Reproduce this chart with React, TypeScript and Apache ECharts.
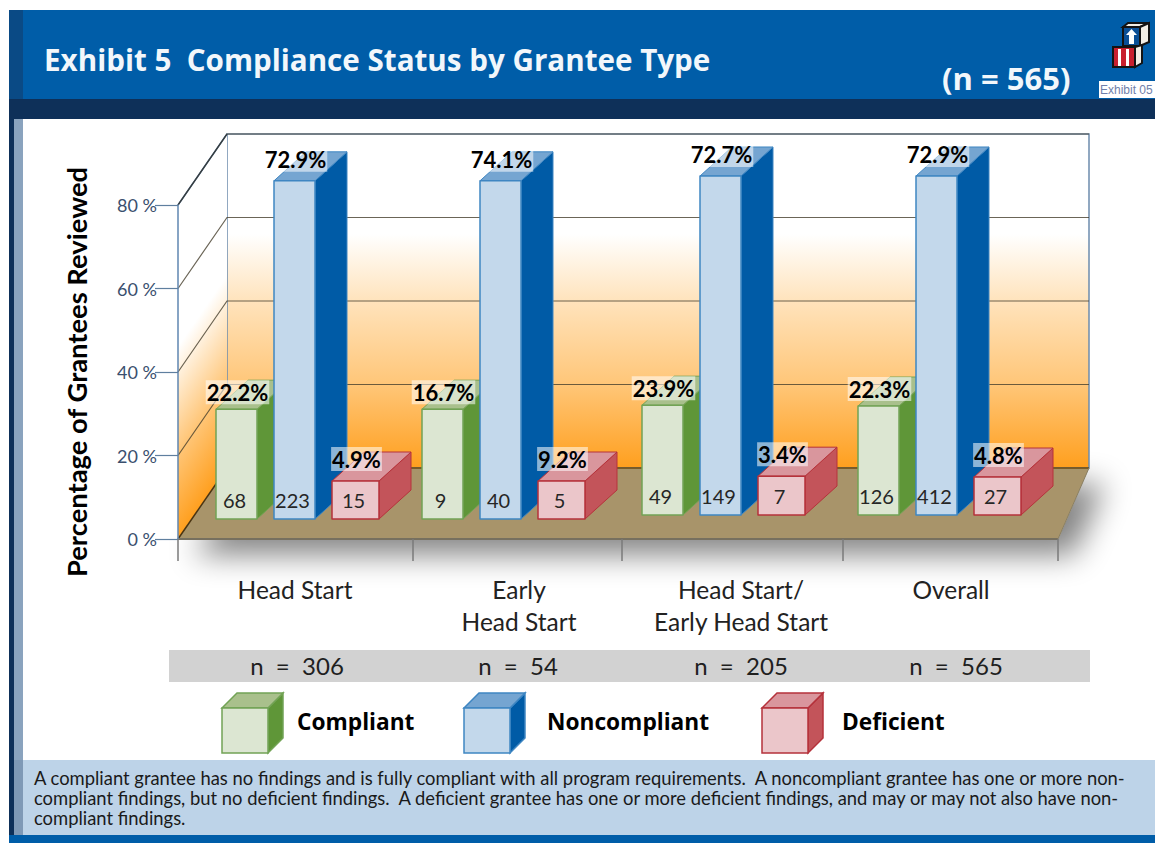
import React, { useEffect, useRef } from "react";
import * as echarts from "echarts";

// ---------- data ----------
const categories = ["Head Start", "Early\nHead Start", "Head Start/\nEarly Head Start", "Overall"];
const sampleSizes = ["n  =  306", "n  =  54", "n  =  205", "n  =  565"];
const yTickValues = [0, 20, 40, 60, 80];

const compliantPct = ["22.2%", "16.7%", "23.9%", "22.3%"];
const noncompliantPct = ["72.9%", "74.1%", "72.7%", "72.9%"];
const deficientPct = ["4.9%", "9.2%", "3.4%", "4.8%"];

const compliantCounts = [68, 9, 49, 126];
const noncompliantCounts = [223, 40, 149, 412];
const deficientCounts = [15, 5, 7, 27];

// Bar heights as drawn in the picture, read against the left axis
const compliantHeights = [26.3, 26.3, 26.3, 26.1];
const noncompliantHeights = [81, 81, 81.2, 81.2];
const deficientHeights = [9.1, 9.1, 9.3, 9.1];

const noteLines = [
  "A compliant grantee has no findings and is fully compliant with all program requirements.  A noncompliant grantee has one or more non-",
  "compliant findings, but no deficient findings.  A deficient grantee has one or more deficient findings, and may or may not also have non-",
  "compliant findings.",
];

// ---------- layout (x axis runs in pixels from the front-left corner) ----------
const GRID = { left: 178, top: 205, width: 880, height: 334 };
const xTicks = [0, 235, 444, 665, 880];
const xLabelAt = [117, 341, 563, 773];
const groupLeft = [38, 244, 464, 680];
const groupLift = [20, 20, 24, 24];
const nLabelX = [297, 518, 741, 956];
const WALL = { dx: 49, dy: -71, right: 1089 };
const DEPTH = { dx: 32, dy: -29 };
const LATO = "Lato";

const palette = {
  compliant: { face: "#DCE6D2", stroke: "#72A355", side: "#5F9638", top: "#A9C08C" },
  noncompliant: { face: "#C3D8EB", stroke: "#3F86C2", side: "#005BA6", top: "#75A5D1" },
  deficient: { face: "#EBC6CA", stroke: "#B5323B", side: "#C3545A", top: "#D9969D" },
};

function barSeries(
  name: string,
  heights: number[],
  pct: string[],
  counts: number[],
  colors: { face: string; stroke: string; side: string; top: string },
  offset: number,
  width: number,
  labelGap: number,
  layer: number,
) {
  return {
    type: "custom",
    name,
    z: 5,
    clip: false,
    encode: { x: 0, y: 1 },
    data: heights.map((h, i) => [groupLeft[i] + offset, h, i]),
    renderItem: (_p: any, api: any) => {
      const x = api.value(0);
      const h = api.value(1);
      const i = api.value(2);
      const base = api.coord([x, 0]);
      const top = api.coord([x, h]);
      const L = base[0];
      const R = L + width;
      const B = base[1] - groupLift[i];
      const T = top[1] - groupLift[i];
      const { dx, dy } = DEPTH;
      const line = { stroke: colors.stroke, lineWidth: 1.5, lineJoin: "round" };
      return {
        type: "group",
        children: [
          {
            type: "polygon",
            z2: layer,
            shape: { points: [[R, T], [R + dx, T + dy], [R + dx, B + dy], [R, B]] },
            style: { fill: colors.side, stroke: colors.stroke, lineWidth: 1 },
          },
          {
            type: "polygon",
            z2: layer,
            shape: { points: [[L, T], [L + dx, T + dy], [R + dx, T + dy], [R, T]] },
            style: { fill: colors.top, stroke: colors.stroke, lineWidth: 1 },
          },
          {
            type: "rect",
            z2: layer,
            shape: { x: L, y: T, width, height: B - T },
            style: { fill: colors.face, ...line },
          },
          {
            type: "text",
            z2: 50,
            style: {
              text: String(counts[i]),
              x: (L + R) / 2 - 2,
              y: B - 19,
              align: "center",
              verticalAlign: "middle",
              fontFamily: LATO,
              fontSize: 20,
              fill: "#262626",
            },
          },
          {
            type: "text",
            z2: 60,
            style: {
              text: pct[i],
              x: (L + R) / 2 + 1,
              y: T - labelGap,
              align: "center",
              verticalAlign: "middle",
              fontFamily: LATO,
              fontSize: 22,
              fontWeight: "bold",
              fill: "#000",
              backgroundColor: "rgba(255,255,255,0.55)",
              padding: [1, 1, 1, 1],
            },
          },
        ],
      };
    },
  };
}

function cube(x: number, colors: { face: string; stroke: string; side: string; top: string }) {
  const y = 708;
  const w = 46;
  const h = 45;
  const dx = 15;
  const dy = -15;
  const border = { stroke: colors.stroke, lineWidth: 1.5 };
  return [
    { type: "polygon", z: 20, shape: { points: [[x + w, y], [x + w + dx, y + dy], [x + w + dx, y + h + dy], [x + w, y + h]] }, style: { fill: colors.side, ...border } },
    { type: "polygon", z: 20, shape: { points: [[x, y], [x + dx, y + dy], [x + w + dx, y + dy], [x + w, y]] }, style: { fill: colors.top, ...border } },
    { type: "rect", z: 20, shape: { x, y, width: w, height: h }, style: { fill: colors.face, ...border } },
  ];
}

function txt(text: string, x: number, y: number, fontSize: number, fill: string, extra: object = {}) {
  return {
    type: "text",
    z: 21,
    style: { text, x, y, fontSize, fill, fontFamily: LATO, verticalAlign: "middle", align: "left", ...extra },
  };
}

function poly(points: number[][], style: object, z = 0) {
  return { type: "polygon", z, shape: { points }, style };
}

function rect(x: number, y: number, width: number, height: number, fill: string, z = 0) {
  return { type: "rect", z, shape: { x, y, width, height }, style: { fill } };
}

function backdrop() {
  const frontL = GRID.left;
  const frontB = GRID.top + GRID.height;
  const backL = frontL + WALL.dx;
  const backB = frontB + WALL.dy;
  const backT = GRID.top + WALL.dy;
  const frontR = GRID.left + GRID.width;
  const floorPts = [[frontL, frontB], [backL, backB], [WALL.right, backB], [frontR, frontB]];
  const backGrad = new echarts.graphic.LinearGradient(0, 0, 0, 1, [
    { offset: 0, color: "#FFFFFF" },
    { offset: 0.3, color: "#FFFFFF" },
    { offset: 0.5, color: "#FFE3BC" },
    { offset: 0.75, color: "#FFC678" },
    { offset: 1, color: "#FF9F1E" },
  ]);
  const sideGrad = new (echarts.graphic.LinearGradient as any)(
    frontL, frontB, frontL - 90, frontB - 62,
    [
      { offset: 0, color: "#FF9F1E" },
      { offset: 0.45, color: "#FFC678" },
      { offset: 1, color: "#FFFFFF" },
    ],
    true,
  );
  return [
    rect(9, 10, 1146, 89, "#005DA8", 1),
    rect(9, 10, 14, 89, "#0A4A85", 1),
    rect(9, 99, 1146, 20, "#0E3059", 1),
    rect(9, 119, 5, 716, "#0E3059", 1),
    rect(14, 119, 9, 641, "#8AA3BE", 1),
    rect(14, 760, 9, 75, "#7F99B6", 1),
    rect(23, 760, 1132, 75, "#BDD3E8", 1),
    rect(9, 835, 1146, 8, "#005DA8", 1),
    rect(169, 650, 921, 32, "#D2D2D2", 1),
    poly(floorPts, { fill: "#A8946A", shadowBlur: 30, shadowOffsetX: 16, shadowOffsetY: 16, shadowColor: "rgba(0,0,0,0.48)" }, 1),
    rect(backL, backT, WALL.right - backL, backB - backT, "#FFFFFF", 1),
    { type: "rect", z: 1, shape: { x: backL, y: backT, width: WALL.right - backL, height: backB - backT }, style: { fill: backGrad, stroke: "#6E8CAD", lineWidth: 1.5 } },
    poly([[frontL, GRID.top], [backL, backT], [backL, backB], [frontL, frontB]], { fill: sideGrad }, 1),
    { type: "line", z: 1, shape: { x1: frontL, y1: GRID.top, x2: backL, y2: backT }, style: { stroke: "#1D3F66", lineWidth: 1.5 } },
    poly(floorPts, { fill: "#A8946A" }, 1),
    { type: "line", z: 1, shape: { x1: frontL, y1: frontB, x2: backL, y2: backB }, style: { stroke: "#4A3412", lineWidth: 1.5 } },
    { type: "line", z: 1, shape: { x1: backL, y1: backB, x2: WALL.right, y2: backB }, style: { stroke: "#6B4A12", lineWidth: 1.5 } },
    { type: "line", z: 1, shape: { x1: frontL, y1: frontB, x2: frontR, y2: frontB }, style: { stroke: "#77705F", lineWidth: 2 } },
    { type: "line", z: 1, shape: { x1: frontR, y1: frontB, x2: WALL.right, y2: backB }, style: { stroke: "#8A8066", lineWidth: 1 } },
  ];
}

function headerText() {
  return [
    txt("Exhibit 5  Compliance Status by Grantee Type", 44, 59, 29.6, "#F2F7FB", { fontFamily: "Open Sans", fontWeight: "bold" }),
    txt("(n = 565)", 942, 78, 31, "#F2F7FB", { fontFamily: "Open Sans", fontWeight: "bold" }),
    { type: "rect", z: 20, shape: { x: 1099, y: 81, width: 56, height: 17 }, style: { fill: "#FFFFFF" } },
    txt("Exhibit 05", 1100, 90, 12, "#6F7FAA", { fontFamily: "Liberation Sans" }),
  ];
}

function logo() {
  const ink = { stroke: "#141414", lineWidth: 2 };
  return [
    poly([[1123, 27], [1128, 23], [1149, 23], [1140, 27]], { fill: "#F3EFE6", ...ink }, 20),
    poly([[1140, 27], [1149, 23], [1149, 42], [1140, 46]], { fill: "#F3EFE6", ...ink }, 20),
    { type: "rect", z: 20, shape: { x: 1123, y: 27, width: 17, height: 19 }, style: { fill: "#0A4F96", ...ink } },
    poly([[1131.5, 29], [1137, 35], [1134, 35], [1134, 44], [1129, 44], [1129, 35], [1126, 35]], { fill: "#FFFFFF" }, 21),
    poly([[1135, 47], [1142, 45], [1142, 63], [1135, 67]], { fill: "#F3EFE6", ...ink }, 20),
    { type: "rect", z: 20, shape: { x: 1113, y: 47, width: 22, height: 20 }, style: { fill: "#C8202F", ...ink } },
    { type: "rect", z: 21, shape: { x: 1118, y: 49, width: 3, height: 17 }, style: { fill: "#FFFFFF" } },
    { type: "rect", z: 21, shape: { x: 1126, y: 49, width: 3, height: 17 }, style: { fill: "#FFFFFF" } },
  ];
}

function footerText() {
  return [
    ...noteLines.map((line, i) => txt(line, 34, [778, 798, 818][i], 18.4, "#1A1A1A")),
    ...sampleSizes.map((s, i) => txt(s, nLabelX[i], 665, 24, "#1F1F1F", { align: "center" })),
    ...cube(222, palette.compliant),
    txt("Compliant", 297, 721, 22.7, "#000", { fontFamily: "Open Sans", fontWeight: "bold" }),
    ...cube(464, palette.noncompliant),
    txt("Noncompliant", 547, 721, 22.7, "#000", { fontFamily: "Open Sans", fontWeight: "bold" }),
    ...cube(762, palette.deficient),
    txt("Deficient", 842, 721, 22.7, "#000", { fontFamily: "Open Sans", fontWeight: "bold" }),
  ];
}

const gridLineSeries = {
  type: "custom",
  name: "Grid lines",
  z: 2,
  clip: false,
  silent: true,
  encode: { x: 0, y: 1 },
  data: yTickValues.slice(1).map((v) => [0, v]),
  renderItem: (_p: any, api: any) => {
    const p = api.coord([api.value(0), api.value(1)]);
    const bx = p[0] + WALL.dx;
    const by = p[1] + WALL.dy;
    return {
      type: "polyline",
      shape: { points: [p, [bx, by], [WALL.right, by]] },
      style: { fill: "none", stroke: "rgba(70,62,45,0.8)", lineWidth: 1.2 },
    };
  },
};

export default function App() {
  const ref = useRef<HTMLDivElement>(null);
  useEffect(() => {
    document.body.style.margin = "0";
    const chart = echarts.init(ref.current!, undefined, { renderer: "svg" });
    chart.setOption({
      animation: false,
      backgroundColor: "#FFFFFF",
      grid: { ...GRID, containLabel: false },
      graphic: { elements: [...backdrop(), ...headerText(), ...logo(), ...footerText()] },
      xAxis: {
        type: "value",
        min: 0,
        max: GRID.width,
        z: 3,
        splitLine: { show: false },
        axisLine: { show: false },
        axisTick: { show: true, inside: false, length: 22, customValues: xTicks, lineStyle: { color: "#7A7A7A", width: 1.5 } },
        axisLabel: {
          show: true,
          customValues: xLabelAt,
          margin: 34,
          fontFamily: LATO,
          fontSize: 24.5,
          lineHeight: 32,
          color: "#222",
          formatter: (v: number) => categories[xLabelAt.indexOf(v)] ?? "",
        },
      },
      yAxis: {
        type: "value",
        min: 0,
        max: 80,
        interval: 20,
        z: 3,
        name: "Percentage of Grantees Reviewed",
        nameLocation: "middle",
        nameRotate: 90,
        nameGap: 88,
        nameTextStyle: { fontFamily: LATO, fontWeight: "bold", fontSize: 27.4, color: "#000" },
        splitLine: { show: false },
        axisLine: { show: true, lineStyle: { color: "#5F86B0", width: 1.5 } },
        axisTick: { show: true, length: 23, lineStyle: { color: "#5F7F9F", width: 1.2 } },
        axisLabel: { margin: 21, fontFamily: LATO, fontSize: 18, color: "#3A4F6E", formatter: "{value} %" },
      },
      series: [
        gridLineSeries,
        barSeries("Compliant", compliantHeights, compliantPct, compliantCounts, palette.compliant, 0, 41, 17, 1),
        barSeries("Noncompliant", noncompliantHeights, noncompliantPct, noncompliantCounts, palette.noncompliant, 58, 41, 21, 2),
        barSeries("Deficient", deficientHeights, deficientPct, deficientCounts, palette.deficient, 116, 47, 22, 3),
      ],
    });
    return () => chart.dispose();
  }, []);
  return <div ref={ref} style={{ width: 1155, height: 843 }} />;
}
